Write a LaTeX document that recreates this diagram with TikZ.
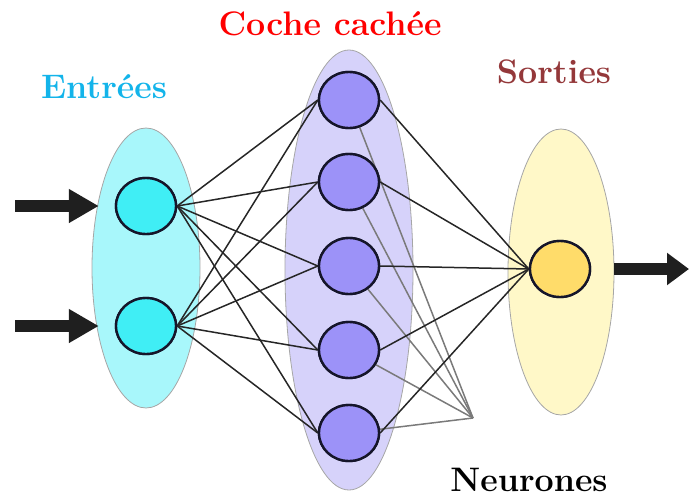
\documentclass[tikz,border=0pt]{standalone}
\usepackage{fontspec}
\usetikzlibrary{shapes.geometric,arrows.meta}

\definecolor{inLayer}{HTML}{A8F7FB}
\definecolor{inCell}{HTML}{40EEF5}
\definecolor{hidLayer}{HTML}{D6D2FA}
\definecolor{hidCell}{HTML}{9C92F8}
\definecolor{outLayer}{HTML}{FFF8C8}
\definecolor{outCell}{HTML}{FFDC6A}
\definecolor{cellEdge}{HTML}{15152A}
\definecolor{inTitle}{HTML}{13B4EA}
\definecolor{outTitle}{HTML}{94383A}
\definecolor{pointer}{HTML}{7A7A7A}

\tikzset{
  layer/.style={ellipse, draw=black!35, line width=0.8pt, inner sep=0pt},
  cell/.style={ellipse, draw=cellEdge, line width=2.4pt, inner sep=0pt,
               minimum width=60pt, minimum height=56pt},
  link/.style={draw=black!85, line width=1.5pt},
  pointerline/.style={draw=pointer, line width=1.5pt},
  flow/.style={draw=black!88, line width=12pt},
  title/.style={font=\fontsize{34}{37}\selectfont\bfseries, anchor=base, inner sep=0pt}
}

\begin{document}
\begin{tikzpicture}[x=1pt,y=-1pt]
  \useasboundingbox (0,0) rectangle (689,499);

  % layer backgrounds
  \node[layer, fill=inLayer, minimum width=108pt, minimum height=280pt] (layerIn) at (146,268) {};
  \node[layer, fill=hidLayer, minimum width=128pt, minimum height=440pt] (layerHid) at (349,270) {};
  \node[layer, fill=outLayer, minimum width=106pt, minimum height=286pt] (layerOut) at (561,272) {};

  % neurons
  \node[cell, fill=inCell] (in1) at (146,206) {};
  \node[cell, fill=inCell] (in2) at (146,326) {};
  \foreach \i/\y in {1/100, 2/182, 3/266, 4/350, 5/433}
    \node[cell, fill=hidCell] (h\i) at (349,\y) {};
  \node[cell, fill=outCell] (out) at (560,269) {};

  % label pointer
  \coordinate (nb) at (473,418);
  \foreach \i in {1,...,5}
    \draw[pointerline] (h\i) -- (nb);

  % connections
  \foreach \a in {1,2}
    \foreach \i in {1,...,5}
      \draw[link] (in\a.east) -- (h\i.west);
  \foreach \i in {1,...,5}
    \draw[link] (h\i.east) -- (out.west);

  % redraw neurons above the connections
  \node[cell, fill=inCell] at (in1) {};
  \node[cell, fill=inCell] at (in2) {};
  \foreach \i in {1,...,5}
    \node[cell, fill=hidCell] at (h\i) {};
  \node[cell, fill=outCell] at (out) {};

  % input and output arrows
  \coordinate (src1) at (15,206);
  \coordinate (src2) at (15,326);
  \coordinate (sink) at (689,269);
  \draw[flow, -{Triangle[length=30pt,width=32pt]}, shorten >=16pt] (src1) -- (in1.west);
  \draw[flow, -{Triangle[length=30pt,width=32pt]}, shorten >=16pt] (src2) -- (in2.west);
  \draw[flow, -{Triangle[length=22pt,width=31pt]}, shorten <=23pt] (out.east) -- (sink);

  % titles
  \node[title, text=inTitle] (tIn) at (104,98) {Entrées};
  \node[title, text=red] (tHid) at (330,35) {Coche cachée};
  \node[title, text=outTitle] (tOut) at (554,83) {Sorties};
  \node[title, text=black] (tNeur) at (529,491) {Neurones};
\end{tikzpicture}
\end{document}
